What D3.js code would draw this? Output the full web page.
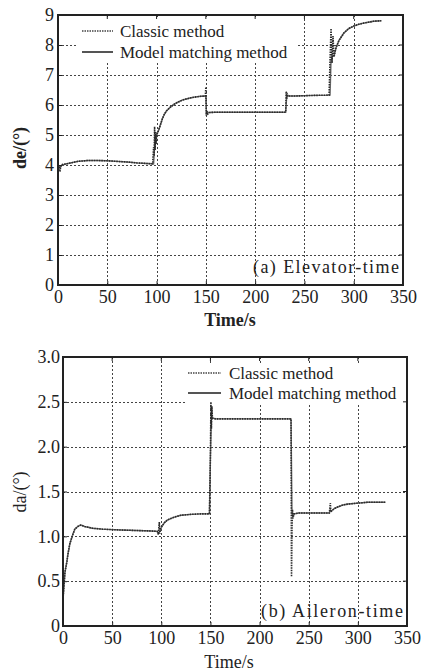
<!DOCTYPE html>
<html><head><meta charset="utf-8">
<script src="https://cdn.jsdelivr.net/npm/d3@7/dist/d3.min.js"></script>
<style>
body{margin:0;background:#fff;}
svg{display:block;font-family:"Liberation Serif","Times New Roman",Times,serif;}
</style></head>
<body><svg id="c" width="422" height="671"></svg>
<script>
// ---------- DATA ----------
const seriesNames = ["Classic method", "Model matching method"];

// (a) Elevator-time
const elevTimeClassic = [0,1,2,3,5,10,20,30,40,50,60,70,80,90,96,97,97.5,98,98.5,99,99.5,100,102,104,106,108,110,114,118,122,126,130,135,140,145,149.5,150,150.5,151,152,154,160,200,231,231.5,232,232.5,233,240,260,275,276,277,278,279,280,282,285,290,295,300,305,310,315,320,328];
const elevClassic     = [4.02,3.95,3.78,4.0,4.02,4.05,4.12,4.15,4.15,4.14,4.12,4.1,4.07,4.05,4.04,4.6,4.3,5.28,4.5,5.1,4.7,5.0,5.15,5.35,5.55,5.7,5.8,5.93,6.03,6.1,6.16,6.2,6.24,6.27,6.29,6.3,6.6,5.65,5.8,5.7,5.75,5.76,5.76,5.76,6.45,6.2,6.4,6.3,6.3,6.32,6.33,7.5,8.55,7.4,8.3,7.6,7.9,8.15,8.4,8.55,8.63,8.69,8.73,8.76,8.79,8.81];
const elevTimeModel = [0,2,4,10,20,30,40,50,60,70,80,90,97,98,100,102,104,106,108,110,114,118,122,126,130,135,140,145,150,150.5,152,160,200,231,232,233,240,260,276,277,278,280,282,285,290,295,300,305,310,315,320,328];
const elevModel     = [4.0,3.9,4.0,4.05,4.12,4.15,4.15,4.14,4.12,4.1,4.07,4.05,4.04,4.6,5.0,5.15,5.35,5.55,5.7,5.8,5.93,6.03,6.1,6.16,6.2,6.24,6.27,6.29,6.3,5.7,5.75,5.76,5.76,5.76,6.28,6.3,6.3,6.32,6.33,7.5,7.6,7.65,7.9,8.15,8.4,8.55,8.63,8.69,8.73,8.76,8.79,8.81];

// (b) Aileron-time
const ailTimeClassic = [0,1,2,4,5,7,10,12,15,18,22,30,40,50,60,75,90,96,97,98,98.5,99,100,103,106,110,115,120,130,140,149,150,150.5,151,151.5,152,155,200,232,232.5,233,233.5,234,235,240,271,272,272.5,273,276,280,285,290,300,310,328];
const ailClassic     = [0.3,0.45,0.6,0.72,0.8,0.92,1.02,1.08,1.11,1.125,1.11,1.09,1.08,1.075,1.07,1.065,1.06,1.055,1.02,1.16,1.03,1.08,1.1,1.15,1.18,1.2,1.22,1.235,1.245,1.25,1.25,1.9,2.5,2.2,2.45,2.32,2.31,2.31,2.31,0.55,1.1,1.3,1.2,1.25,1.26,1.26,1.37,1.27,1.28,1.31,1.33,1.35,1.36,1.37,1.38,1.38];
const ailTimeModel = [0,1,2,4,5,7,10,12,15,18,22,30,40,50,60,75,90,96,97,99,100,103,106,110,115,120,130,140,149,150,151,152,155,200,232,233,234,235,240,271,272,273,276,280,285,290,300,310,328];
const ailModel     = [0.3,0.45,0.6,0.72,0.8,0.92,1.02,1.08,1.11,1.125,1.11,1.09,1.08,1.075,1.07,1.065,1.06,1.055,1.03,1.06,1.1,1.15,1.18,1.2,1.22,1.235,1.245,1.25,1.25,1.9,2.3,2.32,2.31,2.31,2.31,1.25,1.22,1.25,1.26,1.26,1.3,1.28,1.31,1.33,1.35,1.36,1.37,1.38,1.38];

const xTicks = [0,50,100,150,200,250,300,350];
const elevYTicks = [0,1,2,3,4,5,6,7,8,9];
const elevYLabels = ["0","1","2","3","4","5","6","7","8","9"];
const ailYTicks = [0,0.5,1.0,1.5,2.0,2.5,3.0];
const ailYLabels = ["0","0.5","1.0","1.5","2.0","2.5","3.0"];

// ---------- DRAW ----------
const svg = d3.select("#c");
const FONT = "Liberation Serif, Times New Roman, Times, serif";

function panel(opt){
  const g = svg.append("g").attr("font-family",FONT);
  const x = d3.scaleLinear().domain([0,350]).range([opt.l, opt.r]);
  const y = d3.scaleLinear().domain(opt.yDomain).range([opt.b, opt.t]);

  // grid
  const gridStyle = s => s.attr("stroke","#444").attr("stroke-width",1).attr("stroke-dasharray","2,2");
  g.selectAll(".gx").data(xTicks.slice(1,-1)).join("line")
    .attr("x1",d=>Math.round(x(d))+0.5).attr("x2",d=>Math.round(x(d))+0.5)
    .attr("y1",opt.t).attr("y2",opt.b).call(gridStyle);
  g.selectAll(".gy").data(opt.yTicks.slice(1,-1)).join("line")
    .attr("y1",d=>Math.round(y(d))+0.5).attr("y2",d=>Math.round(y(d))+0.5)
    .attr("x1",opt.l).attr("x2",opt.r).call(gridStyle);

  // legend background
  g.append("rect").attr("x",opt.leg.bx).attr("y",opt.leg.by).attr("width",opt.leg.bw).attr("height",opt.leg.bh).attr("fill","#fff");

  // lines
  const line = (tt) => d3.line().x((d,i)=>x(tt[i])).y(d=>y(d));
  g.append("path").datum(opt.model).attr("d", line(opt.modelT))
    .attr("fill","none").attr("stroke","#6a6a6a").attr("stroke-width",1.4);
  g.append("path").datum(opt.classic).attr("d", line(opt.classicT))
    .attr("fill","none").attr("stroke","#2a2a2a").attr("stroke-width",1.6).attr("stroke-dasharray","1.5,1");

  // axes
  const xa = d3.axisBottom(x).tickValues(xTicks).tickSize(-4).tickPadding(opt.xPad).tickFormat(d3.format("d"));
  const ya = d3.axisLeft(y).tickValues(opt.yTicks).tickSize(-4).tickPadding(opt.yPad).tickFormat((d,i)=>opt.yLabels[i]);
  const ax = g.append("g").attr("transform",`translate(0,${opt.b})`).call(xa);
  const ay = g.append("g").attr("transform",`translate(${opt.l},0)`).call(ya);
  [ax,ay].forEach(a=>{
    a.attr("font-family",FONT).attr("font-size",18);
    a.select(".domain").remove();
    a.selectAll("line").attr("stroke","#222");
    a.selectAll("text").attr("fill","#222");
  });
  ax.selectAll("text").attr("dy","0.95em");
  // top / right ticks
  g.selectAll(".tt").data(xTicks).join("line").attr("x1",d=>x(d)).attr("x2",d=>x(d)).attr("y1",opt.t).attr("y2",opt.t+4).attr("stroke","#222");
  g.selectAll(".rt").data(opt.yTicks).join("line").attr("y1",d=>y(d)).attr("y2",d=>y(d)).attr("x1",opt.r).attr("x2",opt.r-4).attr("stroke","#222");

  // frame
  g.append("rect").attr("x",opt.l).attr("y",opt.t).attr("width",opt.r-opt.l).attr("height",opt.b-opt.t)
    .attr("fill","none").attr("stroke","#222").attr("stroke-width",2);

  // legend
  const L = opt.leg;
  g.append("line").attr("x1",L.x1).attr("x2",L.x2).attr("y1",L.y0).attr("y2",L.y0)
    .attr("stroke","#444").attr("stroke-width",1.6).attr("stroke-dasharray","1.5,1");
  g.append("line").attr("x1",L.x1).attr("x2",L.x2).attr("y1",L.y1).attr("y2",L.y1)
    .attr("stroke","#555").attr("stroke-width",2);
  g.append("text").attr("x",L.tx).attr("y",L.y0).attr("dy","0.33em").attr("font-size",17).attr("fill","#222").text(seriesNames[0]);
  g.append("text").attr("x",L.tx).attr("y",L.y1).attr("dy","0.33em").attr("font-size",17).attr("fill","#222").text(seriesNames[1]);

  // annotation
  g.append("text").attr("x",opt.ann.x).attr("y",opt.ann.y).attr("dy","0.33em").attr("font-size",18)
    .attr("fill","#222").attr("textLength",opt.ann.w).attr("lengthAdjust","spacing").text(opt.ann.text);

  // axis titles
  g.append("text").attr("x",opt.xt.x).attr("y",opt.xt.y).attr("dy","0.33em").attr("text-anchor","middle")
    .attr("font-size",18).attr("font-weight",opt.bold?"bold":"normal").attr("fill","#222").text("Time/s");
  g.append("text").attr("transform",`translate(${opt.yt.x},${opt.yt.y}) rotate(-90)`).attr("dy","0.33em").attr("text-anchor","middle")
    .attr("font-size",18).attr("font-weight",opt.bold?"bold":"normal").attr("fill","#222").text(opt.yt.text);
}

panel({l:58,r:403,t:15,b:285,yDomain:[0,9],yTicks:elevYTicks,yLabels:elevYLabels,yPad:4,xPad:1,
  classic:elevClassic,classicT:elevTimeClassic,model:elevModel,modelT:elevTimeModel,
  leg:{bx:78,by:17,bw:220,bh:45,x1:82,x2:113,tx:120,y0:31,y1:52},
  ann:{x:253,y:267,w:146,text:"(a)  Elevator-time"},
  xt:{x:230,y:320},yt:{x:20,y:148,text:"de/(°)"},bold:true});

panel({l:63,r:407,t:357,b:626,yDomain:[0,3],yTicks:ailYTicks,yLabels:ailYLabels,yPad:3,xPad:1,
  classic:ailClassic,classicT:ailTimeClassic,model:ailModel,modelT:ailTimeModel,
  leg:{bx:186,by:363,bw:219,bh:40,x1:188,x2:221,tx:229,y0:373,y1:393},
  ann:{x:261,y:611,w:142,text:"(b)  Aileron-time"},
  xt:{x:229,y:662},yt:{x:20,y:492,text:"da/(°)"},bold:false});
</script></body></html>
